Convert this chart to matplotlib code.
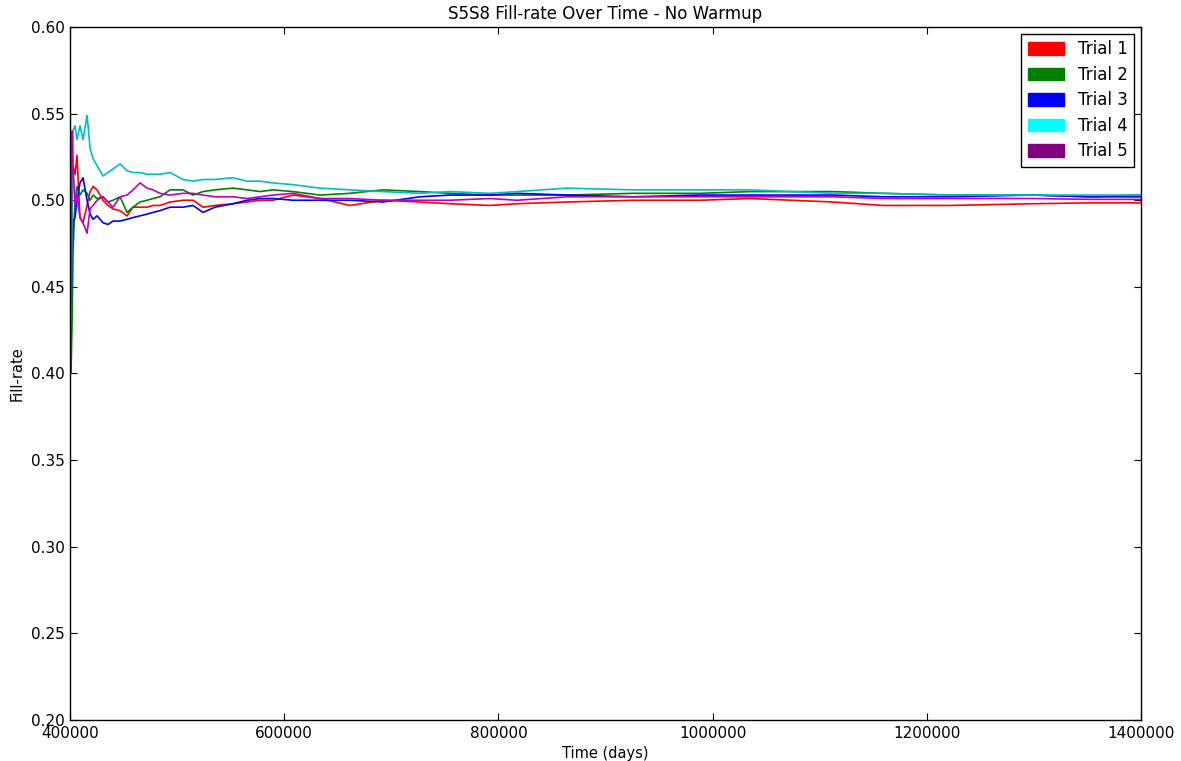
import numpy as np
import matplotlib
matplotlib.use('Agg')
import matplotlib.pyplot as plt
import matplotlib.patches as mpatches

# time axis (days), shared by all trials
time_days = [400000, 400900, 401900, 402800, 404700, 406500, 409300, 412100, 415900,
             418700, 421500, 425200, 430800, 435500, 440100, 446700, 453200, 458800,
             465400, 471900, 477500, 484000, 493400, 505500, 514800, 524200, 535400,
             552200, 565300, 577400, 589500, 608200, 633400, 661400, 692200, 726800,
             754800, 792200, 817400, 864100, 925700, 988300, 1034900, 1112400, 1159100,
             1221700, 1299200, 1352400, 1400000]

trial1 = [0.47, 0.44, 0.50, 0.52, 0.515, 0.526, 0.49, 0.487, 0.497, 0.505, 0.508, 0.506,
          0.500, 0.497, 0.495, 0.494, 0.491, 0.496, 0.496, 0.496, 0.497, 0.497, 0.499,
          0.500, 0.500, 0.496, 0.497, 0.498, 0.499, 0.500, 0.500, 0.503, 0.501, 0.497,
          0.500, 0.499, 0.498, 0.497, 0.498, 0.499, 0.500, 0.500, 0.501, 0.499, 0.497,
          0.497, 0.498, 0.4985, 0.4985]
trial2 = [0.58, 0.40, 0.43, 0.47, 0.50, 0.508, 0.503, 0.506, 0.504, 0.500, 0.503, 0.501,
          0.502, 0.499, 0.500, 0.502, 0.493, 0.496, 0.499, 0.500, 0.501, 0.502, 0.506,
          0.506, 0.503, 0.505, 0.506, 0.507, 0.506, 0.505, 0.506, 0.505, 0.503, 0.504,
          0.506, 0.505, 0.504, 0.503, 0.503, 0.503, 0.504, 0.504, 0.505, 0.505, 0.504,
          0.503, 0.503, 0.502, 0.503]
trial3 = [0.46, 0.43, 0.47, 0.488, 0.49, 0.50, 0.510, 0.513, 0.50, 0.492, 0.489, 0.491,
          0.487, 0.486, 0.488, 0.488, 0.489, 0.490, 0.491, 0.492, 0.493, 0.494, 0.496,
          0.496, 0.497, 0.493, 0.496, 0.498, 0.500, 0.501, 0.501, 0.500, 0.500, 0.500,
          0.499, 0.502, 0.503, 0.503, 0.504, 0.503, 0.502, 0.503, 0.503, 0.503, 0.502,
          0.502, 0.503, 0.502, 0.502]
trial4 = [0.47, 0.43, 0.49, 0.54, 0.543, 0.535, 0.543, 0.535, 0.549, 0.530, 0.524, 0.520,
          0.514, 0.516, 0.518, 0.521, 0.517, 0.516, 0.516, 0.515, 0.515, 0.515, 0.516,
          0.512, 0.511, 0.512, 0.512, 0.513, 0.511, 0.511, 0.510, 0.509, 0.507, 0.506,
          0.505, 0.504, 0.505, 0.504, 0.505, 0.507, 0.506, 0.506, 0.506, 0.504, 0.504,
          0.503, 0.503, 0.503, 0.503]
trial5 = [0.40, 0.45, 0.54, 0.52, 0.497, 0.503, 0.49, 0.487, 0.481, 0.495, 0.497, 0.500,
          0.502, 0.499, 0.496, 0.502, 0.503, 0.506, 0.510, 0.507, 0.506, 0.504, 0.503,
          0.504, 0.504, 0.503, 0.502, 0.502, 0.501, 0.502, 0.503, 0.504, 0.501, 0.501,
          0.500, 0.500, 0.500, 0.501, 0.500, 0.502, 0.502, 0.502, 0.502, 0.502, 0.501,
          0.501, 0.501, 0.5005, 0.5005]

labels = ['Trial 1', 'Trial 2', 'Trial 3', 'Trial 4', 'Trial 5']
line_colors = [(1, 0, 0), (0, 0.5, 0), (0, 0, 1), (0, 0.75, 0.75), (0.75, 0, 0.75)]
patch_colors = ['red', 'green', 'blue', 'cyan', 'purple']
x_ticks = [400000, 600000, 800000, 1000000, 1200000, 1400000]
y_ticks = [0.20, 0.25, 0.30, 0.35, 0.40, 0.45, 0.50, 0.55, 0.60]

fig = plt.figure(figsize=(11.81, 7.61), dpi=100, facecolor='white')
ax = fig.add_axes([0.0593, 0.0539, 0.9068, 0.9106])

for ys, c in zip([trial1, trial2, trial3, trial4, trial5], line_colors):
    ax.plot(time_days, ys, color=c, linewidth=1.2)

ax.set_xlim(400000, 1400000)
ax.set_ylim(0.20, 0.60)
ax.set_xticks(x_ticks)
ax.set_xticklabels([str(v) for v in x_ticks])
ax.set_yticks(y_ticks)
ax.set_yticklabels(['%.2f' % v for v in y_ticks])
ax.tick_params(direction='in', top=True, right=True, length=5, labelsize=11, pad=4)
for s in ax.spines.values():
    s.set_linewidth(1.0)

ax.set_title('S5S8 Fill-rate Over Time - No Warmup', fontsize=12)
ax.set_xlabel('Time (days)', fontsize=10.5)
ax.set_ylabel('Fill-rate', fontsize=10.5)

handles = [mpatches.Patch(color=c, label=l) for c, l in zip(patch_colors, labels)]
leg = ax.legend(handles=handles, loc='upper right', fontsize=12, fancybox=False,
                framealpha=1, edgecolor='black', borderaxespad=0.4,
                handlelength=2.2, handleheight=0.8, labelspacing=0.45)
leg.get_frame().set_linewidth(1.0)

fig.savefig('out.png', dpi=100, facecolor='white')
